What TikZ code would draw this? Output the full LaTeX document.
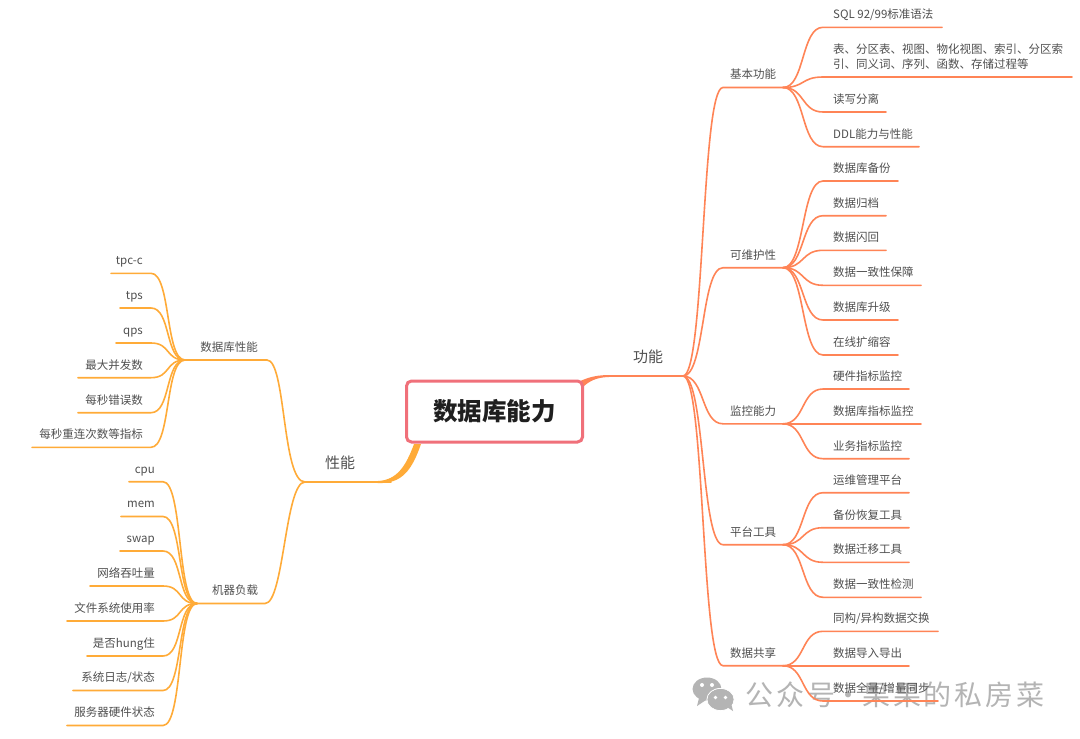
\documentclass[tikz,border=0pt]{standalone}
\usepackage{fontspec}
\setmainfont{Noto Sans CJK SC}
\newfontfamily\wmfont[LetterSpace=10.5]{Noto Sans CJK SC}
\usetikzlibrary{calc}
\definecolor{cR}{HTML}{FF8456}
\definecolor{cL}{HTML}{FFAB38}
\definecolor{cBox}{HTML}{F0707A}
\definecolor{cTxt}{HTML}{505050}
\definecolor{cWm}{HTML}{B4B4B4}
\tikzset{
  leaf/.style={text=cTxt,font=\fontsize{11.5}{15}\selectfont,inner sep=0pt,align=left},
  leafs/.style={leaf,text height=9pt,text depth=2.5pt},
  topic/.style={text=cTxt,font=\fontsize{15}{18}\selectfont,inner sep=0pt},
  conR/.style={draw=cR,line width=1.6pt,line cap=round},
  conL/.style={draw=cL,line width=1.6pt,line cap=round},
  rootbox/.style={draw=cBox,line width=3pt,rounded corners=5pt,fill=white,minimum width=176pt,minimum height=61pt,inner sep=0pt,
     font=\fontsize{24.5}{28}\bfseries\selectfont,text=black!88},
}
% right-hand leaf: id, junction, y, end x, text
\newcommand{\RL}[5]{%
  \coordinate (#1-s) at (823,#3);
  \coordinate (#1-e) at (#4,#3);
  \node[leafs,anchor=west] (#1) at (833,#3-11.8) {#5};
  \draw[conR] (#2) .. controls ([xshift=22pt]#2) and ([xshift=-22pt]#1-s) .. (#1-s) -- (#1-e);
}
% right-hand branch: id, y, text
\newcommand{\RB}[3]{%
  \coordinate (#1-s) at (723,#2);
  \coordinate (#1-j) at (783,#2);
  \node[leaf] (#1) at (753,#2-13) {#3};
  \draw[conR] (gong-j) .. controls ([xshift=22pt]gong-j) and ([xshift=-22pt]#1-s) .. (#1-s) -- (#1-j);
}
% left-hand leaf: id, junction, bend x, y, start x, text right x, text
\newcommand{\LL}[7]{%
  \coordinate (#1-s) at (#3,#4);
  \coordinate (#1-e) at (#5,#4);
  \node[leafs,anchor=east] (#1) at (#6,#4-11.8) {#7};
  \draw[conL] (#2) .. controls ([xshift=-20pt]#2) and ([xshift=20pt]#1-s) .. (#1-s) -- (#1-e);
}
\begin{document}
\begin{tikzpicture}[x=1pt,y=-1pt]
\useasboundingbox (0,0) rectangle (1080,739);
\fill[white] (0,0) rectangle (1080,739);

% watermark
\begin{scope}
  \fill[cWm] (707,689) ellipse [x radius=14.5pt,y radius=11.5pt];
  \fill[cWm] (699,698) -- (697,706) -- (706,700) -- cycle;
  \fill[cWm] (720.5,699.5) ellipse [x radius=13.5pt,y radius=11pt];
  \draw[white,line width=1pt] (720.5,699.5) ellipse [x radius=13.5pt,y radius=11pt];
  \fill[cWm] (720.5,699.5) ellipse [x radius=13pt,y radius=10.5pt];
  \fill[cWm] (727,707) -- (733,711) -- (731,703) -- cycle;
  \foreach \ex/\ey in {702/685,712/685}{\fill[white] (\ex,\ey) circle [radius=2pt];}
  \foreach \ex/\ey in {715.5/697.5,725.5/697.5}{\fill[white] (\ex,\ey) circle [radius=1.8pt];}
\end{scope}
\node[anchor=west,inner sep=0pt,text=cWm,font=\wmfont\fontsize{28}{30}\selectfont] (wm) at (745,695) {公众号\makebox[27pt][c]{·}果果的私房菜};

% top-level anchors
\coordinate (gong-s) at (612,376);
\coordinate (gong-j) at (683,376);
\coordinate (xing-s) at (391,482);
\coordinate (xing-j) at (305,482);

% right main branch
\fill[cR] (578,382) .. controls (590,376.5) and (598,374.8) .. (612,375.1) -- (gong-j) -- (612,376.9) .. controls (600,377) and (592,379) .. (584,386) -- cycle;
\draw[conR] (gong-s) -- (gong-j);
\node[topic] (gong) at (648,357) {功能};

% left main branch
\fill[cL] (414,444) .. controls (406,466) and (397,480) .. (378,481) -- (xing-j) -- (378,483) .. controls (402,484) and (412,470) .. (421,444) -- cycle;
\draw[conL] (xing-s) -- (xing-j);
\node[topic] (xing) at (340,462.5) {性能};

% right branches
\RB{jb}{87.5}{基本功能}
\RB{wh}{267.7}{可维护性}
\RB{jk}{423.8}{监控能力}
\RB{pt}{544.7}{平台工具}
\RB{gx}{665.7}{数据共享}

\RL{a1}{jb-j}{27.3}{942}{SQL 92/99标准语法}
\coordinate (a2-s) at (823,77);
\coordinate (a2-e) at (1072,77);
\node[leaf,anchor=west] (a2) at (833,56.5) {表、分区表、视图、物化视图、索引、分区索\\引、同义词、序列、函数、存储过程等};
\draw[conR] (jb-j) .. controls ([xshift=22pt]jb-j) and ([xshift=-22pt]a2-s) .. (a2-s) -- (a2-e);
\RL{a3}{jb-j}{112}{886}{读写分离}
\RL{a4}{jb-j}{146.7}{919}{DDL能力与性能}

\RL{b1}{wh-j}{181}{898}{数据库备份}
\RL{b2}{wh-j}{215.7}{886}{数据归档}
\RL{b3}{wh-j}{250.3}{886}{数据闪回}
\RL{b4}{wh-j}{285.3}{921}{数据一致性保障}
\RL{b5}{wh-j}{320}{898}{数据库升级}
\RL{b6}{wh-j}{355}{898}{在线扩缩容}

\RL{c1}{jk-j}{389}{909}{硬件指标监控}
\RL{c2}{jk-j}{423.8}{921}{数据库指标监控}
\RL{c3}{jk-j}{458.7}{909}{业务指标监控}

\RL{d1}{pt-j}{492.7}{909}{运维管理平台}
\RL{d2}{pt-j}{527.7}{909}{备份恢复工具}
\RL{d3}{pt-j}{562.3}{909}{数据迁移工具}
\RL{d4}{pt-j}{597.3}{921}{数据一致性检测}

\RL{e1}{gx-j}{631.3}{938}{同构/异构数据交换}
\RL{e2}{gx-j}{665.7}{909}{数据导入导出}
\RL{e3}{gx-j}{701}{938}{数据全量/增量同步}

% left branches
\coordinate (xn-s) at (267,360);
\coordinate (xn-j) at (185,360);
\node[leaf] (xn) at (229,347) {数据库性能};
\draw[conL] (xing-j) .. controls (282,482) and (286,360) .. (xn-s) -- (xn-j);

\coordinate (jq-s) at (265,603.5);
\coordinate (jq-j) at (197,603.5);
\node[leaf] (jq) at (235,590.5) {机器负载};
\draw[conL] (xing-j) .. controls (285,482) and (284,603.5) .. (jq-s) -- (jq-j);

\LL{f1}{xn-j}{151}{273.3}{111}{143}{tpc-c}
\LL{f2}{xn-j}{151}{308}{120}{143}{tps}
\LL{f3}{xn-j}{151}{343}{116}{143}{qps}
\LL{f4}{xn-j}{151}{377.7}{78}{143}{最大并发数}
\LL{f5}{xn-j}{151}{412.7}{78}{143}{每秒错误数}
\LL{f6}{xn-j}{151}{447.3}{32}{143}{每秒重连次数等指标}

\LL{g1}{jq-j}{163}{481.7}{129}{155}{cpu}
\LL{g2}{jq-j}{163}{516.5}{121}{155}{mem}
\LL{g3}{jq-j}{163}{551}{120}{155}{swap}
\LL{g4}{jq-j}{163}{586}{90}{155}{网络吞吐量}
\LL{g5}{jq-j}{163}{621}{67}{155}{文件系统使用率}
\LL{g6}{jq-j}{163}{656}{87}{155}{是否hung住}
\LL{g7}{jq-j}{163}{690.5}{73}{155}{系统日志/状态}
\LL{g8}{jq-j}{163}{725.5}{67}{155}{服务器硬件状态}

% root
\node[rootbox] (root) at (494.5,411.5) {数据库能力};
\end{tikzpicture}
\end{document}
